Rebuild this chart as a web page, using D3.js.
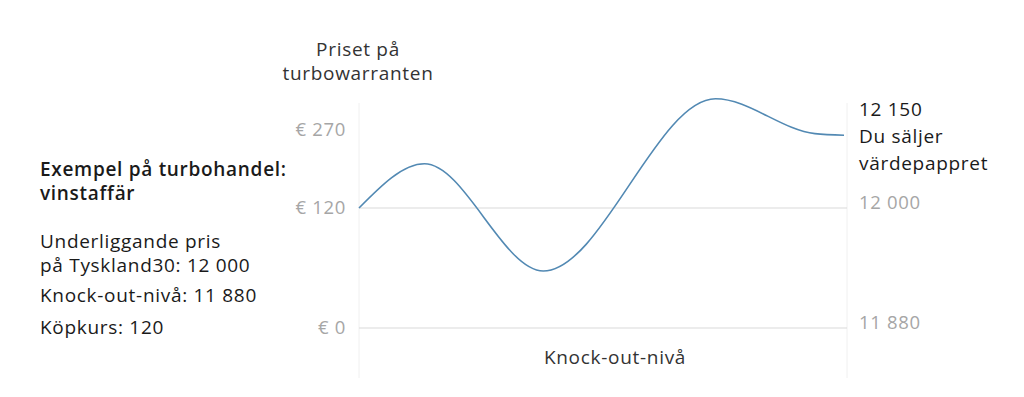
<!DOCTYPE html>
<html>
<head>
<meta charset="utf-8">
<script src="https://cdn.jsdelivr.net/npm/d3@7"></script>
<style>
  body { margin: 0; background: #fff; }
  svg { display: block; font-family: "Open Sans", "Noto Sans", sans-serif; letter-spacing: 0.7px; }
</style>
</head>
<body>
<div id="chart"></div>
<script>
// time steps (arbitrary units) and warrant price along the illustrative path
const steps = [0, 1.35, 3.8, 7.35, 9.4, 10];
const prices = [120, 205, 57, 330, 263, 260];

// left axis (warrant price) and right axis (underlying)
const priceTicks = [0, 120, 270];
const priceTickLabels = ['€ 0', '€ 120', '€ 270'];
const underlyingTicks = [11880, 12000];
const underlyingTickLabels = ['11 880', '12 000'];

const infoTitle = ['Exempel på turbohandel:', 'vinstaffär'];
const infoLines = [['Underliggande pris', 'på Tyskland30: 12 000'], ['Knock-out-nivå: 11 880'], ['Köpkurs: 120']];
const endNote = ['12 150', 'Du säljer', 'värdepappret'];

const width = 1024;
const height = 397;
const plot = { left: 359, right: 847, top: 103, bottom: 378 };
const font = '"Open Sans", "Noto Sans", sans-serif';

const svg = d3.select('#chart')
    .append('svg')
    .attr('width', width)
    .attr('height', height);

const x = d3.scaleLinear()
    .domain([0, 10])
    .range([plot.left, plot.right - 3]);

// illustrative chart: upper part is compressed
const y = d3.scaleLinear()
    .domain([0, 120, 270])
    .range([328, 208, 130]);

const yRight = d3.scaleLinear()
    .domain([11880, 12000])
    .range([328, 208]);

// frame verticals
svg.selectAll('line.vert')
    .data([plot.left, plot.right])
    .join('line')
    .attr('class', 'vert')
    .attr('x1', d => d).attr('x2', d => d)
    .attr('y1', plot.top).attr('y2', plot.bottom)
    .attr('stroke', '#f0f0f0')
    .attr('stroke-width', 1);

// gridlines
svg.selectAll('line.grid')
    .data([0, 120])
    .join('line')
    .attr('class', 'grid')
    .attr('x1', plot.left).attr('x2', plot.right)
    .attr('y1', d => y(d)).attr('y2', d => y(d))
    .attr('stroke', '#d9d9d9')
    .attr('stroke-width', 1);

// left axis
const leftAxis = svg.append('g')
    .attr('transform', `translate(${plot.left - 13},0)`)
    .call(d3.axisLeft(y).tickValues(priceTicks).tickSize(0).tickPadding(0)
        .tickFormat((d, i) => priceTickLabels[i]));
leftAxis.select('.domain').remove();
leftAxis.selectAll('text')
    .attr('fill', '#a6a6a6')
    .style('font-size', '18.5px')
    .style('font-family', font);

// right axis
const rightAxis = svg.append('g')
    .attr('transform', `translate(${plot.right + 12},-5)`)
    .call(d3.axisRight(yRight).tickValues(underlyingTicks).tickSize(0).tickPadding(0)
        .tickFormat((d, i) => underlyingTickLabels[i]));
rightAxis.select('.domain').remove();
rightAxis.selectAll('text')
    .attr('fill', '#a6a6a6')
    .style('font-size', '18.5px')
    .style('font-family', font);

// price path
const line = d3.line()
    .x((d, i) => x(steps[i]))
    .y(d => y(d))
    .curve(d3.curveMonotoneX);

svg.append('path')
    .datum(prices)
    .attr('d', line)
    .attr('fill', 'none')
    .attr('stroke', '#5289b3')
    .attr('stroke-width', 1.6);

// axis title
svg.append('text')
    .attr('text-anchor', 'middle')
    .attr('fill', '#333')
    .style('font-size', '19px')
    .selectAll('tspan')
    .data(['Priset på', 'turbowarranten'])
    .join('tspan')
    .attr('x', 358)
    .attr('y', (d, i) => 56 + i * 24)
    .text(d => d);

svg.append('text')
    .attr('x', 615)
    .attr('y', 364)
    .attr('text-anchor', 'middle')
    .attr('fill', '#333')
    .style('font-size', '19px')
    .text('Knock-out-nivå');

// left info block
svg.append('g')
    .selectAll('text')
    .data(infoTitle)
    .join('text')
    .attr('x', 40)
    .attr('y', (d, i) => 176 + i * 24)
    .attr('fill', '#1a1a1a')
    .style('font-size', '19px')
    .style('font-weight', '600')
    .text(d => d);

const infoTops = [248, 302, 334];
infoLines.forEach((lines, k) => {
    svg.append('g')
        .selectAll('text')
        .data(lines)
        .join('text')
        .attr('x', 40)
        .attr('y', (d, i) => infoTops[k] + i * 24)
        .attr('fill', '#1a1a1a')
        .style('font-size', '19px')
        .text(d => d);
});

// end note
svg.append('g')
    .selectAll('text')
    .data(endNote)
    .join('text')
    .attr('x', 859)
    .attr('y', (d, i) => 116 + i * 27)
    .attr('fill', '#1a1a1a')
    .style('font-size', '19px')
    .text(d => d);
</script>
</body>
</html>
